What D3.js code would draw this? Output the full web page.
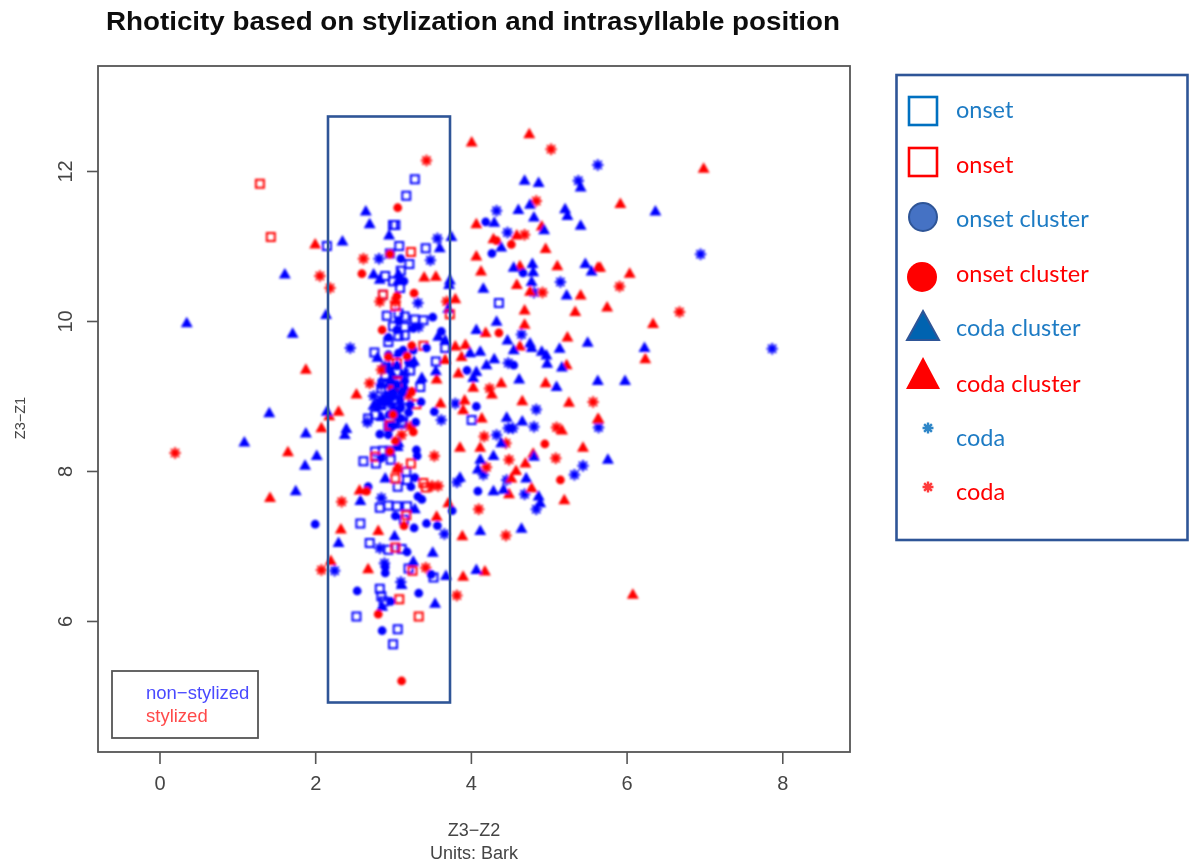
<!DOCTYPE html>
<html><head><meta charset="utf-8">
<script src="https://cdn.jsdelivr.net/npm/d3@7"></script>
<style>html,body{margin:0;padding:0;background:#fff}svg{display:block}</style>
</head><body><svg id="c" width="1189" height="863"></svg>
<script>
const title = "Rhoticity based on stylization and intrasyllable position";
const xLabel = "Z3−Z2", unitsLabel = "Units: Bark", yLabel = "Z3−Z1";
const xTicks = [0,2,4,6,8], yTicks = [6,8,10,12];
const innerLegend = ["non−stylized","stylized"];
const outerLegend = [["onset","square","b"],["onset","square","r"],["onset cluster","circle","b"],["onset cluster","circle","r"],["coda cluster","triangle","b"],["coda cluster","triangle","r"],["coda","star","b"],["coda","star","r"]];

const blueOnset = [[3.28,11.89],[3.17,11.67],[3.0,11.28],[3.03,11.28],[2.15,11.0],[3.08,11.0],[3.42,10.97],[2.96,10.9],[3.21,10.76],[3.1,10.67],[2.9,10.6],[3.0,10.53],[3.09,10.44],[2.87,10.35],[4.36,10.24],[2.92,10.07],[3.07,10.1],[3.15,10.06],[3.28,10.02],[3.39,10.01],[3.0,9.93],[3.15,9.92],[3.07,9.8],[3.15,9.81],[2.94,9.72],[2.76,9.58],[3.67,9.64],[3.55,9.46],[3.22,9.34],[3.35,9.12],[3.05,9.32],[2.87,9.17],[3.0,9.48],[2.77,8.26],[2.87,8.27],[2.96,8.27],[2.62,8.13],[2.78,8.1],[2.97,8.15],[3.17,7.99],[3.18,7.88],[3.06,7.79],[2.83,7.51],[2.94,7.54],[3.05,7.53],[3.18,7.53],[2.58,7.3],[3.14,7.35],[2.7,7.04],[2.94,6.95],[3.11,6.96],[3.2,6.7],[3.52,6.58],[2.83,6.43],[2.85,6.33],[2.88,6.26],[2.53,6.06],[3.06,5.89],[3.0,5.69],[4.01,8.68],[2.77,8.75],[2.94,8.59],[3.13,8.66],[2.83,8.9],[2.85,9.1],[2.85,8.88],[2.96,9.0],[3.07,8.85],[3.11,8.63],[2.9,9.26],[2.68,8.7],[3.0,9.1],[3.15,8.95]];
const redOnset = [[1.29,11.83],[1.43,11.12],[3.23,10.92],[2.87,10.35],[3.03,10.2],[3.73,10.09],[3.39,9.67],[3.23,8.10],[2.77,8.19],[3.03,7.9],[3.39,7.84],[3.42,7.78],[3.17,7.41],[3.03,6.98],[3.25,6.67],[3.08,6.29],[3.33,6.06],[3.3,8.89],[3.05,9.44],[3.05,9.19],[2.96,8.61]];
const blueOnsetCluster = [[4.19,11.32],[3.1,10.83],[4.27,10.9],[4.67,10.64],[3.14,10.53],[3.51,10.05],[3.62,9.86],[2.94,9.78],[3.26,9.9],[3.05,9.88],[3.43,9.64],[3.95,9.34],[4.55,9.41],[3.26,9.43],[3.07,10.0],[3.53,8.79],[4.07,8.86],[3.29,8.65],[2.83,8.49],[2.94,8.48],[3.3,8.28],[3.31,8.2],[2.85,8.17],[2.68,7.79],[3.28,7.91],[3.23,7.79],[4.09,7.73],[3.32,7.66],[3.37,7.62],[3.03,7.4],[3.76,7.47],[2.0,7.29],[3.27,7.24],[3.43,7.3],[3.57,7.27],[3.18,6.92],[2.9,6.72],[2.9,6.64],[3.49,6.62],[2.54,6.4],[3.33,6.37],[2.97,6.26],[2.86,5.87],[3.36,8.92],[3.07,9.57],[3.13,9.61],[3.26,9.61],[2.96,9.35],[3.09,8.95],[3.0,9.05],[2.9,8.98],[3.05,9.15],[3.12,9.05],[2.95,8.75],[3.05,8.8],[3.2,8.78],[2.85,8.92],[2.8,8.85],[3.1,8.7],[3.0,8.6],[3.15,9.2],[3.22,8.88],[3.05,9.4],[3.2,9.45],[2.94,9.55],[3.0,9.0],[3.1,8.85],[2.97,9.2]];
const redOnsetCluster = [[3.06,11.51],[2.6,10.63],[3.27,10.37],[3.05,10.33],[2.86,9.88],[4.36,9.84],[3.18,9.53],[4.52,11.02],[4.33,11.07],[2.96,10.89],[2.94,9.52],[3.03,8.4],[3.26,8.52],[4.95,8.36],[5.15,7.88],[2.66,7.73],[3.14,7.27],[2.81,6.09],[3.11,5.2],[3.24,9.67],[3.24,9.06],[2.96,8.26],[3.0,8.75]];
const blueCodaCluster = [[2.65,11.44],[2.7,11.27],[2.95,11.12],[2.35,11.04],[3.75,11.1],[3.6,10.95],[4.3,11.29],[4.61,11.46],[4.76,11.53],[4.81,11.36],[4.69,11.85],[4.87,11.82],[5.41,11.76],[5.21,11.47],[5.24,11.38],[5.41,11.25],[4.94,11.19],[4.39,10.96],[4.55,10.69],[4.79,10.74],[4.8,10.63],[4.78,10.5],[5.47,10.74],[5.55,10.64],[2.75,10.6],[2.83,10.53],[3.07,10.6],[3.07,10.52],[3.73,10.52],[3.72,10.46],[4.16,10.41],[5.23,10.32],[2.14,10.06],[3.71,10.14],[4.33,9.97],[4.07,9.86],[4.47,9.72],[4.55,9.59],[4.76,9.68],[4.78,9.62],[4.91,9.57],[4.97,9.52],[4.98,9.41],[5.14,9.61],[5.5,9.69],[3.99,9.55],[4.12,9.57],[4.3,9.47],[4.2,9.39],[5.17,9.36],[3.58,9.77],[3.67,9.72],[3.55,9.31],[3.37,9.22],[4.07,9.3],[4.03,9.22],[4.62,9.2],[5.1,9.1],[5.63,9.18],[2.8,9.49],[6.37,11.44],[6.23,9.62],[5.98,9.18],[0.35,9.95],[1.61,10.6],[1.71,9.81],[1.41,8.75],[1.09,8.36],[2.15,8.77],[2.4,8.54],[2.38,8.46],[1.88,8.48],[2.02,8.18],[1.87,8.05],[1.75,7.71],[4.46,8.69],[4.66,8.64],[4.12,8.13],[4.29,8.18],[4.81,8.17],[4.09,8.0],[3.86,7.89],[4.71,7.88],[4.29,7.71],[4.42,7.73],[4.87,7.64],[4.89,7.55],[2.9,7.88],[2.58,7.58],[3.28,7.47],[4.12,7.18],[4.65,7.21],[3.02,7.11],[3.51,6.89],[2.3,7.02],[3.26,6.77],[4.07,6.66],[3.68,6.58],[3.11,6.46],[3.54,6.21],[2.86,6.17],[4.39,8.35],[3.06,8.3],[5.76,8.13],[2.75,8.85],[2.95,8.9],[3.07,8.35],[3.27,9.44],[3.0,9.25],[2.85,8.7],[3.15,9.1]];
const redCodaCluster = [[4.01,12.36],[4.75,12.47],[4.07,11.27],[4.91,11.24],[4.96,10.94],[4.29,11.07],[4.59,11.12],[4.07,10.84],[4.63,10.71],[5.11,10.71],[5.63,10.69],[4.13,10.64],[4.59,10.46],[4.76,10.37],[5.41,10.32],[5.34,10.1],[4.69,10.12],[4.69,9.93],[5.24,9.76],[4.63,9.64],[4.19,9.82],[3.8,10.27],[3.4,10.56],[3.55,10.57],[2.0,11.0],[1.88,9.33],[3.8,9.64],[3.93,9.66],[3.88,9.5],[3.67,9.46],[3.84,9.28],[5.23,9.39],[3.56,9.2],[4.39,9.15],[4.96,9.15],[4.03,9.09],[2.53,9.0],[4.27,9.0],[6.99,12.01],[5.92,11.54],[5.66,10.69],[6.04,10.61],[5.75,10.16],[6.34,9.94],[6.24,9.47],[5.64,8.67],[1.65,8.23],[1.42,7.62],[2.3,8.77],[2.08,8.55],[3.92,8.92],[3.9,8.79],[4.14,8.68],[4.66,8.91],[5.26,8.89],[5.63,8.67],[5.17,8.52],[3.86,8.29],[4.12,8.29],[5.44,8.29],[4.8,8.21],[4.7,8.08],[4.58,7.98],[4.52,7.88],[4.78,7.75],[4.49,7.67],[5.2,7.59],[2.57,7.72],[3.71,7.55],[3.56,7.37],[2.33,7.2],[2.81,7.18],[3.89,7.11],[2.2,6.78],[2.68,6.67],[3.9,6.57],[4.18,6.64],[3.61,8.88],[3.05,8.01],[2.18,8.71],[6.08,6.33]];
const blueCoda = [[4.33,11.47],[5.38,11.87],[5.63,12.08],[3.57,11.1],[4.47,11.18],[2.82,10.83],[3.48,10.81],[3.32,10.24],[2.45,9.64],[4.65,9.82],[5.15,10.52],[4.81,10.38],[4.48,9.44],[3.33,9.92],[6.95,10.89],[7.87,9.63],[3.8,8.9],[4.84,8.82],[2.67,8.65],[3.62,8.68],[4.33,8.48],[4.48,8.57],[4.54,8.57],[4.81,8.59],[5.64,8.58],[5.44,8.07],[5.33,7.95],[4.46,7.88],[3.82,7.85],[4.16,7.95],[4.69,7.69],[4.84,7.49],[2.85,7.64],[2.83,6.97],[2.25,6.67],[3.66,7.16],[3.1,6.52],[2.89,6.77],[2.85,9.15],[2.95,9.0],[3.0,8.85],[3.1,9.05],[2.85,8.95],[2.75,9.0],[3.15,9.3],[3.05,8.7],[2.9,9.4],[2.96,8.6]];
const redCoda = [[3.43,12.14],[5.03,12.29],[4.84,11.6],[2.62,10.83],[2.06,10.6],[2.19,10.44],[2.83,10.26],[3.03,10.26],[3.69,10.26],[4.69,11.15],[4.92,10.38],[2.7,9.17],[4.24,9.1],[5.57,8.92],[5.1,8.58],[4.17,8.46],[4.45,8.37],[3.53,8.2],[4.49,8.15],[5.09,8.17],[4.2,8.05],[3.58,7.8],[3.5,7.8],[2.34,7.59],[4.1,7.49],[4.45,7.14],[2.08,6.68],[3.42,6.71],[3.82,6.34],[3.07,8.04],[3.11,8.48],[5.91,10.46],[6.68,10.12],[0.2,8.24],[2.85,9.35],[3.2,9.01],[3.22,8.59],[3.0,9.1]];

const W = 1189, H = 863;
const box = {l:98, r:850, t:66, b:752};
const x = d3.scaleLinear().domain([-0.79,8.87]).range([box.l,box.r]);
const y = d3.scaleLinear().domain([4.253,13.4]).range([box.b,box.t]);
const BLUE="#0000ff", RED="#ff0000", INK="#555", FONT="'Liberation Sans',Arial,sans-serif";

const svg = d3.select("#c");
const defs = svg.append("defs");
const fl=(id,sd)=>defs.append("filter").attr("id",id).attr("filterUnits","userSpaceOnUse").attr("x",0).attr("y",0).attr("width",W).attr("height",H)
  .append("feGaussianBlur").attr("stdDeviation",sd);
fl("bl",0.8); fl("bs",0.4); fl("bt",0.6);

const starType = {draw(ctx,size){
  const r=Math.sqrt(size);
  for(let i=0;i<4;i++){const a=i*Math.PI/4, dx=r*Math.cos(a), dy=r*Math.sin(a);
    ctx.moveTo(-dx,-dy); ctx.lineTo(dx,dy);}
}};
const gen = (t,s)=>d3.symbol().type(t).size(s)();
const paths = {
  square: gen(d3.symbolSquare,64),
  circle: gen(d3.symbolCircle,60),
  triangle: gen(d3.symbolTriangle,62),
  star: gen(starType,32),
  legendStar: gen(starType,30)
};

const frame = svg.append("g").attr("filter","url(#bt)");
const plot = svg.append("g").attr("filter","url(#bl)");
frame.append("rect").attr("x",box.l).attr("y",box.t).attr("width",box.r-box.l).attr("height",box.b-box.t)
  .attr("fill","#fff").attr("stroke",INK).attr("stroke-width",1.8);

const layers = [
  [blueOnset,"square",BLUE],[blueCoda,"star",BLUE],[redCoda,"star",RED],
  [redCodaCluster,"triangle",RED],[blueCodaCluster,"triangle",BLUE],
  [redOnset,"square",RED],[blueOnsetCluster,"circle",BLUE],[redOnsetCluster,"circle",RED]
];
layers.forEach(([data,kind,col])=>{
  plot.append("g").selectAll("path").data(data).join("path")
    .attr("d",paths[kind])
    .attr("transform",d=>`translate(${x(d[0])},${y(d[1])-(kind==="triangle"?1:0)})`)
    .attr("fill",kind==="square"||kind==="star"?"none":col)
    .attr("stroke",kind==="square"||kind==="star"?col:"none")
    .attr("stroke-width",kind==="square"?2:2);
});

const gx = frame.append("g").attr("transform",`translate(0,${box.b})`)
  .call(d3.axisBottom(x).tickValues(xTicks).tickSize(12).tickPadding(12));
const gy = frame.append("g").attr("transform",`translate(${box.l},0)`)
  .call(d3.axisLeft(y).tickValues(yTicks).tickSize(11).tickPadding(10));
[gx,gy].forEach(g=>{g.select(".domain").remove();
  g.selectAll("line").attr("stroke",INK).attr("stroke-width",1.6);
  g.selectAll("text").attr("fill","#444").attr("font-size",20).attr("font-family",FONT);});
gy.selectAll("text").attr("transform","rotate(-90,-33,0)")
  .attr("x",-33).attr("dy",0).attr("y",0).attr("text-anchor","middle").attr("dominant-baseline","central");

const T=(g,s,xx,yy,size,col,extra={})=>{const e=g.append("text").attr("x",xx).attr("y",yy).attr("font-size",size).attr("fill",col).attr("font-family",FONT).text(s);
  Object.entries(extra).forEach(([k,v])=>e.attr(k,v));return e;};
T(frame,title,473,30,25,"#111",{"text-anchor":"middle","font-weight":"bold","textLength":734,"lengthAdjust":"spacingAndGlyphs"});
T(frame,xLabel,474,836,18,"#444",{"text-anchor":"middle"});
T(frame,unitsLabel,474,859,18,"#444",{"text-anchor":"middle"});
T(frame,yLabel,0,0,14.5,"#444",{"text-anchor":"middle","transform":"translate(25,418) rotate(-90)"});

// inner legend
frame.append("rect").attr("x",112).attr("y",671).attr("width",146).attr("height",67)
  .attr("fill","#fff").attr("stroke",INK).attr("stroke-width",1.8);
T(frame,innerLegend[0],146,699,18.5,"#4a4aff");
T(frame,innerLegend[1],146,722,18.5,"#ff4a4a");

// highlight rectangle
svg.append("rect").attr("x",328).attr("y",116.5).attr("width",122).attr("height",586)
  .attr("fill","none").attr("stroke","#2f5597").attr("stroke-width",2.6);

// outer legend
const lg = svg.append("g").attr("filter","url(#bs)");
lg.append("rect").attr("x",896.5).attr("y",75).attr("width",291).attr("height",465)
  .attr("fill","#fff").attr("stroke","#2f5597").attr("stroke-width",2.6);
const LB="#0070c0", LR="#ff0000";
const baselines=[118,173,227,282,336,392,446,500];
const mark=[
 ()=>lg.append("rect").attr("x",909).attr("y",97).attr("width",28).attr("height",28).attr("fill","#fff").attr("stroke",LB).attr("stroke-width",2.6),
 ()=>lg.append("rect").attr("x",909).attr("y",148).attr("width",28).attr("height",28).attr("fill","#fff").attr("stroke",LR).attr("stroke-width",2.6),
 ()=>lg.append("circle").attr("cx",923).attr("cy",217).attr("r",14).attr("fill","#4472c4").attr("stroke","#2f5597").attr("stroke-width",2),
 ()=>lg.append("circle").attr("cx",922).attr("cy",277).attr("r",15).attr("fill",LR),
 ()=>lg.append("path").attr("d",d3.line()([[923,311],[939,340],[907,340]])+"Z").attr("fill","#0563b0").attr("stroke","#2f5597").attr("stroke-width",2),
 ()=>lg.append("path").attr("d",d3.line()([[923,357],[940,389],[906,389]])+"Z").attr("fill",LR),
 ()=>lg.append("path").attr("d",paths.legendStar).attr("transform","translate(928,428)").attr("stroke","#2e86c8").attr("stroke-width",2.4).attr("fill","none"),
 ()=>lg.append("path").attr("d",paths.legendStar).attr("transform","translate(928,487)").attr("stroke","#ff3b3b").attr("stroke-width",2.4).attr("fill","none")
];
outerLegend.forEach((d,i)=>{
  mark[i]();
  T(lg,d[0],956,baselines[i],23.5,d[2]==="b"?"#1f7bc4":LR).attr("font-family","Lato,'Open Sans',sans-serif");
});
</script></body></html>
